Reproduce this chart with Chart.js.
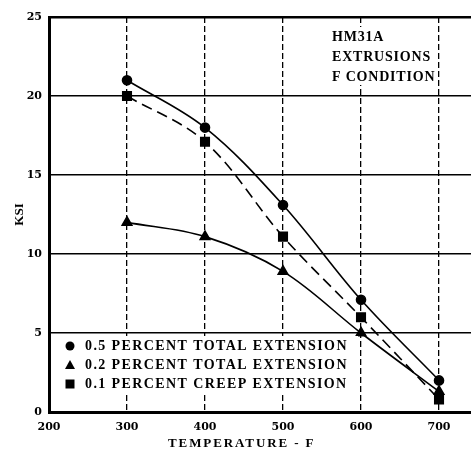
<!DOCTYPE html>
<html>
<head>
<meta charset="utf-8">
<script src="https://cdn.jsdelivr.net/npm/chart.js@4"></script>
<style>
  body { margin: 0; background: #fff; }
  #wrap { width: 471px; height: 455px; }
</style>
</head>
<body>
<div id="wrap"><canvas id="chart"></canvas></div>
<script>
const temps = [300, 400, 500, 600, 700];
const total05 = [21, 18, 13.1, 7.1, 2.0];
const total02 = [12, 11.1, 8.9, 5.0, 1.3];
const creep01 = [20, 17.1, 11.1, 6.0, 0.8];
const xTicks = [200, 300, 400, 500, 600, 700];
const seriesNames = ['0.5 PERCENT TOTAL EXTENSION', '0.2 PERCENT TOTAL EXTENSION', '0.1 PERCENT CREEP EXTENSION'];
const noteLines = ['HM31A', 'EXTRUSIONS', 'F CONDITION'];
const xTitle = 'TEMPERATURE - F';

const toPts = (vals) => temps.map((t, i) => ({ x: t, y: vals[i] }));
const serif = '"Liberation Serif", "Times New Roman", serif';

// legend, note and x title drawn by hand (wide letter spacing like the scan)
const notes = {
  id: 'notes',
  afterDraw(chart) {
    const ctx = chart.ctx;
    const area = chart.chartArea;
    ctx.save();
    ctx.textBaseline = 'middle';

    // note box top right
    ctx.font = 'bold 14px ' + serif;
    ctx.letterSpacing = '0.8px';
    ctx.fillStyle = '#fff';
    ctx.fillRect(329, 27, 107, 58);
    ctx.fillStyle = '#000';
    noteLines.forEach((s, i) => ctx.fillText(s, 332, 37 + i * 20));

    // legend lower left
    const rows = [346, 365, 384];
    ctx.fillStyle = '#fff';
    ctx.fillRect(area.left + 3, 336, 306, 56);
    ctx.letterSpacing = '1.4px';
    chart.data.datasets.forEach((ds, i) => {
      const y = rows[i];
      ctx.fillStyle = '#000';
      ctx.beginPath();
      if (ds.pointStyle === 'circle') {
        ctx.arc(70, y, 4.5, 0, Math.PI * 2);
      } else if (ds.pointStyle === 'triangle') {
        ctx.moveTo(70, y - 5);
        ctx.lineTo(75, y + 4);
        ctx.lineTo(65, y + 4);
        ctx.closePath();
      } else {
        ctx.rect(65.5, y - 4.5, 9, 9);
      }
      ctx.fill();
      ctx.fillText(seriesNames[i], 85, y);
    });

    // x axis title
    ctx.font = 'bold 13px ' + serif;
    ctx.letterSpacing = '1.9px';
    ctx.textAlign = 'left';
    ctx.fillText(xTitle, 168, 444);
    ctx.restore();
  }
};

new Chart(document.getElementById('chart'), {
  type: 'line',
  data: {
    datasets: [
      {
        label: seriesNames[0],
        data: toPts(total05),
        borderColor: '#000',
        backgroundColor: '#000',
        borderWidth: 1.6,
        pointStyle: 'circle',
        pointRadius: 4.5,
        tension: 0.35,
      },
      {
        label: seriesNames[1],
        data: toPts(total02),
        borderColor: '#000',
        backgroundColor: '#000',
        borderWidth: 1.6,
        pointStyle: 'triangle',
        pointRadius: 5.5,
        tension: 0.35,
      },
      {
        label: seriesNames[2],
        data: toPts(creep01),
        borderColor: '#000',
        backgroundColor: '#000',
        borderWidth: 1.6,
        borderDash: [11, 6],
        pointStyle: 'rect',
        pointRadius: 6,
        tension: 0.35,
      },
    ],
  },
  options: {
    responsive: true,
    maintainAspectRatio: false,
    animation: false,
    layout: { autoPadding: false, padding: { top: 17, left: 0, right: 0, bottom: 0 } },
    plugins: { legend: { display: false }, tooltip: { enabled: false } },
    scales: {
      x: {
        type: 'linear',
        min: 200,
        max: 741,
        afterBuildTicks: (scale) => { scale.ticks = xTicks.map((v) => ({ value: v })); },
        afterFit: (scale) => { scale.height = 43; },
        grid: {
          color: '#000',
          lineWidth: 1.3,
          drawTicks: false,
        },
        border: { display: true, color: '#000', width: 3, dash: [6, 3] },
        ticks: {
          color: '#000',
          padding: 9,
          font: { family: '"DejaVu Serif", serif', size: 11, weight: 'bold' },
          maxRotation: 0,
        },
      },
      y: {
        min: 0,
        max: 25,
        afterFit: (scale) => { scale.width = 49; },
        grid: {
          color: '#000',
          lineWidth: (c) => (c.tick && c.tick.value === 25 ? 2.5 : 1.5),
          drawTicks: false,
        },
        border: { display: true, color: '#000', width: 3 },
        ticks: {
          stepSize: 5,
          color: '#000',
          padding: 7,
          font: { family: '"DejaVu Serif", serif', size: 11, weight: 'bold' },
        },
        title: {
          display: true,
          text: 'KSI',
          color: '#000',
          padding: { top: 12, bottom: 0 },
          font: { family: serif, size: 13, weight: 'bold' },
        },
      },
    },
  },
  plugins: [notes],
});
</script>
</body>
</html>
